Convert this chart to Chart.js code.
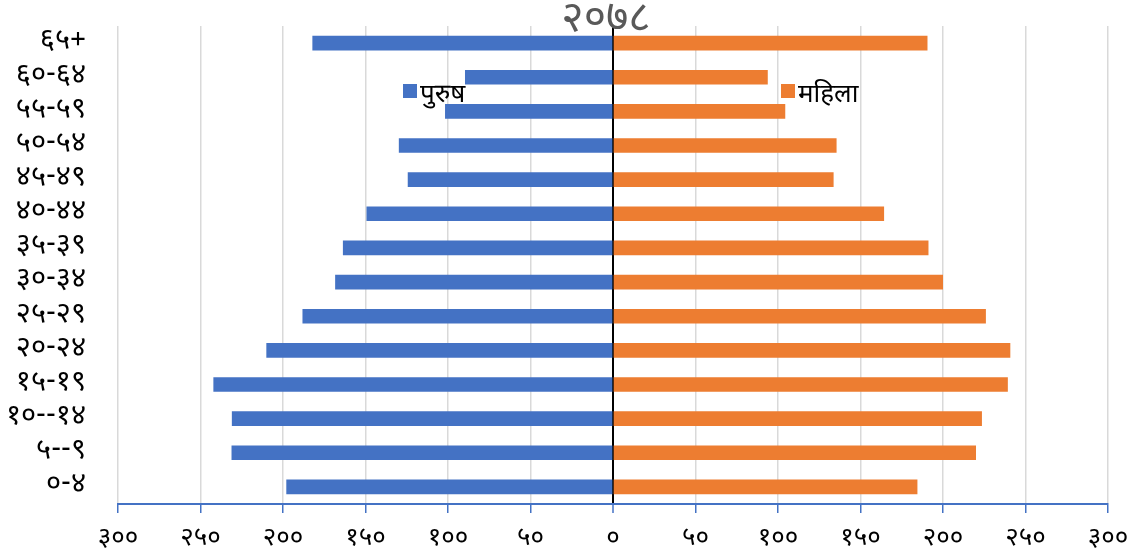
<!DOCTYPE html>
<html>
<head>
<meta charset="utf-8">
<script src="https://cdn.jsdelivr.net/npm/chart.js@4.4.0/dist/chart.umd.min.js"></script>
<style>
  html, body { margin: 0; padding: 0; background: #ffffff; }
  #wrap { width: 1145px; height: 554px; position: relative; }
</style>
</head>
<body>
<div id="wrap"><canvas id="c" width="1145" height="554"></canvas></div>
<script>
const categories = ['६५+', '६०-६४', '५५-५९', '५०-५४', '४५-४९', '४०-४४', '३५-३९', '३०-३४', '२५-२९', '२०-२४', '१५-१९', '१०--१४', '५--९', '०-४'];
const maleValues = [182, 89.5, 101.6, 129.6, 124.2, 149.2, 163.5, 168.2, 188, 209.9, 242, 230.8, 231, 197.8];
const femaleValues = [190.4, 93.6, 104.2, 135.3, 133.5, 164.1, 191, 199.8, 225.8, 240.6, 239.1, 223.4, 219.8, 184.3];
const tickValues = [-300, -250, -200, -150, -100, -50, 0, 50, 100, 150, 200, 250, 300];
const tickLabels = ['३००', '२५०', '२००', '१५०', '१००', '५०', '०', '५०', '१००', '१५०', '२००', '२५०', '३००'];
const seriesNames = ['पुरुष', 'महिला'];
const titleText = '२०७८';

const FONT = "'Noto Sans Devanagari', 'Noto Sans', 'DejaVu Sans', sans-serif";
const BLUE = '#4472C4';
const ORANGE = '#ED7D31';

const overlay = {
  id: 'overlay',
  afterDraw(chart) {
    const ctx = chart.ctx;
    ctx.save();
    // title
    ctx.fillStyle = '#595959';
    ctx.font = '43px ' + FONT;
    ctx.textAlign = 'center';
    ctx.textBaseline = 'middle';
    ctx.fillText(titleText, 606, 23);
    // legend
    const items = [
      { x: 403, color: BLUE, text: seriesNames[0] },
      { x: 781, color: ORANGE, text: seriesNames[1] }
    ];
    ctx.font = '26px ' + FONT;
    ctx.textAlign = 'left';
    items.forEach(it => {
      ctx.fillStyle = it.color;
      ctx.fillRect(it.x, 84, 14, 14);
      ctx.fillStyle = '#000000';
      ctx.fillText(it.text, it.x + 17, 97);
    });
    ctx.restore();
  }
};

new Chart(document.getElementById('c'), {
  type: 'bar',
  data: {
    labels: categories,
    datasets: [
      { label: seriesNames[0], data: maleValues.map(v => -v), backgroundColor: BLUE, barThickness: 14 },
      { label: seriesNames[1], data: femaleValues, backgroundColor: ORANGE, barThickness: 14 }
    ]
  },
  options: {
    indexAxis: 'y',
    responsive: false,
    animation: false,
    layout: { padding: { top: 26, right: 37, left: 0, bottom: 0 } },
    plugins: { legend: { display: false }, tooltip: { enabled: false }, title: { display: false } },
    scales: {
      x: {
        stacked: true,
        min: -300, max: 300,
        afterBuildTicks(axis) { axis.ticks = tickValues.map(v => ({ value: v })); },
        afterFit(axis) { axis.height = 50; axis.paddingLeft = 0; axis.paddingRight = 0; },
        ticks: {
          color: '#000000',
          font: { family: FONT, size: 26 },
          padding: 12,
          maxRotation: 0,
          callback: (v, i) => tickLabels[i]
        },
        grid: {
          color: c => (c.tick && c.tick.value === 0) ? '#000000' : '#d9d9d9',
          lineWidth: c => (c.tick && c.tick.value === 0) ? 2 : 1.5,
          tickColor: BLUE,
          tickLength: 9,
          tickWidth: 1.5
        },
        border: { color: BLUE, width: 2 }
      },
      y: {
        stacked: true,
        afterFit(axis) { axis.width = 118; axis.paddingTop = 0; axis.paddingBottom = 0; },
        grid: { display: false },
        border: { display: false },
        ticks: {
          color: '#000000',
          font: { family: FONT, size: 29 },
          padding: 24,
          autoSkip: false
        }
      }
    }
  },
  plugins: [overlay]
});
</script>
</body>
</html>
